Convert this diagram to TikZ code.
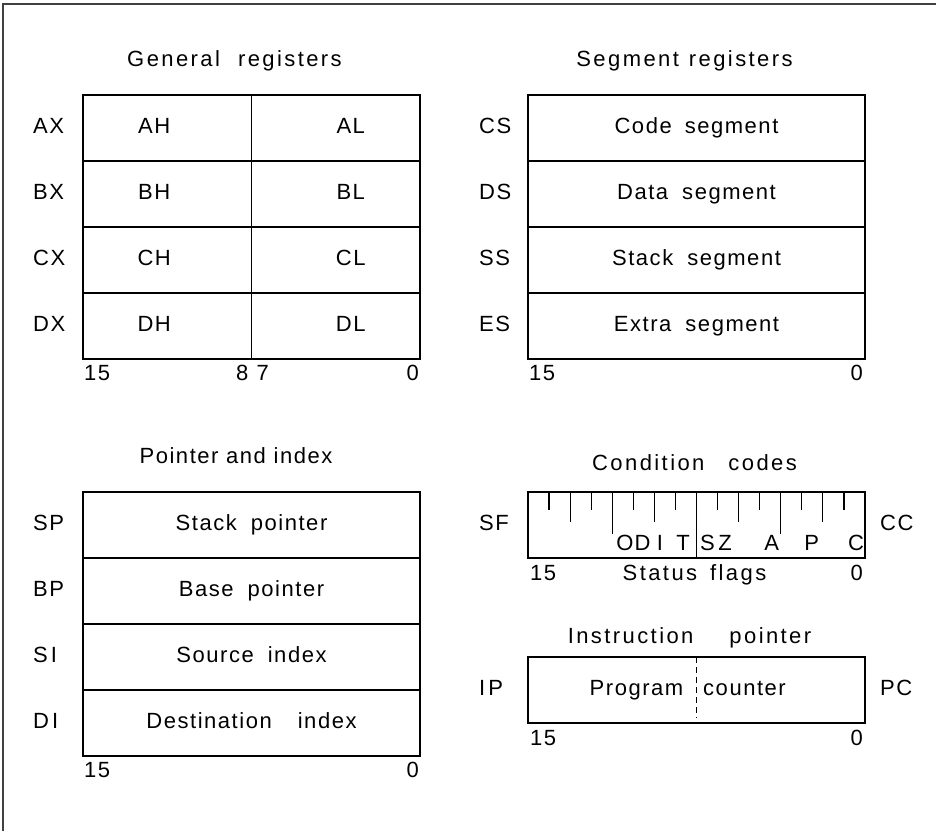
\documentclass[tikz,border=0pt]{standalone}
\usepackage{fontspec}
\setmainfont{Liberation Sans}[LetterSpace=7]
\usetikzlibrary{positioning}
\newcommand{\wgap}[1][14pt]{\hspace{#1}}

\begin{document}
\begin{tikzpicture}[x=1pt, y=-1pt,
    node distance=0pt,
    txt/.style={inner sep=0pt, text height=15.8pt, text depth=4.4pt,
                font=\fontsize{22}{26}\selectfont},
    title/.style={txt, font=\fontsize{22}{26}\selectfont\addfontfeature{LetterSpace=11}},
    reg/.style={txt, draw, line width=1.2pt, minimum width=337pt, minimum height=66pt,
                outer sep=0pt},
    half/.style={reg, minimum width=168.5pt},
    lbl/.style={txt, anchor=west},
    tick/.style={line width=1.2pt}]
  \useasboundingbox (0,0) rectangle (936,831);
  \draw[line width=1.3pt, black!75] (3,831) -- (3,4) -- (936,4);

  % general registers
  \node[half] (ah) at (167.25,128) {};
  \node[half, right=of ah] (al) {};
  \node[half, below=of ah] (bh) {};
  \node[half, right=of bh] (bl) {};
  \node[half, below=of bh] (ch) {};
  \node[half, right=of ch] (cl) {};
  \node[half, below=of ch] (dh) {};
  \node[half, right=of dh] (dl) {};
  \node[title] (gentitle) at ([xshift=-17pt, yshift=34pt]ah.north east) {General\wgap[18pt]registers};
  \node[txt] (aht) at ([xshift=-13pt]ah.center) {AH};
  \node[txt] (alt) at ([xshift=15pt]al.center) {AL};
  \node[txt] (bht) at ([xshift=-13pt]bh.center) {BH};
  \node[txt] (blt) at ([xshift=15pt]bl.center) {BL};
  \node[txt] (cht) at ([xshift=-13pt]ch.center) {CH};
  \node[txt] (clt) at ([xshift=15pt]cl.center) {CL};
  \node[txt] (dht) at ([xshift=-13pt]dh.center) {DH};
  \node[txt] (dlt) at ([xshift=15pt]dl.center) {DL};
  \node[lbl] (axl) at ([xshift=-50pt]ah.west) {AX};
  \node[lbl] (bxl) at ([xshift=-50pt]bh.west) {BX};
  \node[lbl] (cxl) at ([xshift=-50pt]ch.west) {CX};
  \node[lbl] (dxl) at ([xshift=-50pt]dh.west) {DX};
  \node[txt, anchor=west] (g15) at ([xshift=1pt, yshift=-16pt]dh.south west) {15};
  \node[txt, anchor=east] (g8) at ([xshift=-3pt, yshift=-16pt]dh.south east) {8};
  \node[txt, anchor=west] (g7) at ([xshift=5pt, yshift=-16pt]dl.south west) {7};
  \node[txt, anchor=east] (g0) at ([xshift=-1pt, yshift=-16pt]dl.south east) {0};

  % segment registers
  \node[reg] (cs) at (696.5,128) {Code\wgap[13pt]segment};
  \node[reg, below=of cs] (ds) {Data\wgap segment};
  \node[reg, below=of ds] (ss) {Stack\wgap segment};
  \node[reg, below=of ss] (es) {Extra\wgap segment};
  \node[title] (segtitle) at ([xshift=-12pt, yshift=34pt]cs.north) {Segment\wgap[10pt]registers};
  \node[lbl] (csl) at ([xshift=-49pt]cs.west) {CS};
  \node[lbl] (dsl) at ([xshift=-49pt]ds.west) {DS};
  \node[lbl] (ssl) at ([xshift=-49pt]ss.west) {SS};
  \node[lbl] (esl) at ([xshift=-49pt]es.west) {ES};
  \node[txt, anchor=west] (s15) at ([xshift=1pt, yshift=-16pt]es.south west) {15};
  \node[txt, anchor=east] (s0) at ([xshift=-2pt, yshift=-16pt]es.south east) {0};

  % pointer and index
  \node[reg] (sp) at (251.5,525) {Stack\wgap pointer};
  \node[reg, below=of sp] (bp) {Base\wgap pointer};
  \node[reg, below=of bp] (si) {Source\wgap index};
  \node[reg, below=of si] (di) {Destination\wgap[26pt]index};
  \node[txt] (ptrtitle) at ([xshift=-15.5pt, yshift=34pt]sp.north) {Pointer and index};
  \node[lbl] (spl) at ([xshift=-50pt]sp.west) {SP};
  \node[lbl] (bpl) at ([xshift=-50pt]bp.west) {BP};
  \node[lbl] (sil) at ([xshift=-50pt]si.west) {S\hspace{3pt}I};
  \node[lbl] (dil) at ([xshift=-50pt]di.west) {D\hspace{3pt}I};
  \node[txt, anchor=west] (p15) at ([xshift=1pt, yshift=-16pt]di.south west) {15};
  \node[txt, anchor=east] (p0) at ([xshift=-1pt, yshift=-16pt]di.south east) {0};

  % condition codes
  \node[reg] (sf) at (696.5,525) {};
  \foreach \i/\len in {1/18,2/30,3/18,4/42,5/18,6/30,7/18,8/66,9/18,10/30,11/18,12/42,13/18,14/30,15/18}
    \draw[tick] ([xshift=\i*21.0625pt]sf.north west) -- ++(0,\len);
  \foreach \x/\f in {625/O,642.5/D,660/I,683/T,707.5/S,725/Z,771.7/A,811.7/P,856/C}
    \node[txt] (flag\f) at (\x,545) {\f};
  \node[title] (cctitle) at ([xshift=-2pt, yshift=27pt]sf.north) {Condition\wgap[24pt]codes};
  \node[lbl] (sfl) at ([xshift=-49pt]sf.west) {SF};
  \node[lbl] (ccl) at ([xshift=15pt]sf.east) {CC};
  \node[title] (status) at ([xshift=-2pt, yshift=-17pt]sf.south) {Status\wgap[13pt]flags};
  \node[txt, anchor=west] (c15) at ([xshift=2pt, yshift=-17pt]sf.south west) {15};
  \node[txt, anchor=east] (c0) at ([xshift=-2pt, yshift=-17pt]sf.south east) {0};

  % instruction pointer
  \node[reg] (ip) at (696.5,690) {};
  \draw[line width=1pt, dash pattern=on 6pt off 4pt] (ip.north) -- ([yshift=5pt]ip.south);
  \node[txt, anchor=east] (prog) at ([xshift=-13pt]ip.center) {Program};
  \node[txt, anchor=west] (cnt) at ([xshift=6.5pt]ip.center) {counter};
  \node[title] (iptitle) at ([xshift=-7pt, yshift=19pt]ip.north) {Instruction\wgap[36pt]pointer};
  \node[lbl] (ipl) at ([xshift=-49pt]ip.west) {I\hspace{3pt}P};
  \node[lbl] (pcl) at ([xshift=15pt]ip.east) {PC};
  \node[txt, anchor=west] (i15) at ([xshift=2pt, yshift=-17pt]ip.south west) {15};
  \node[txt, anchor=east] (i0) at ([xshift=-2pt, yshift=-17pt]ip.south east) {0};
\end{tikzpicture}
\end{document}
